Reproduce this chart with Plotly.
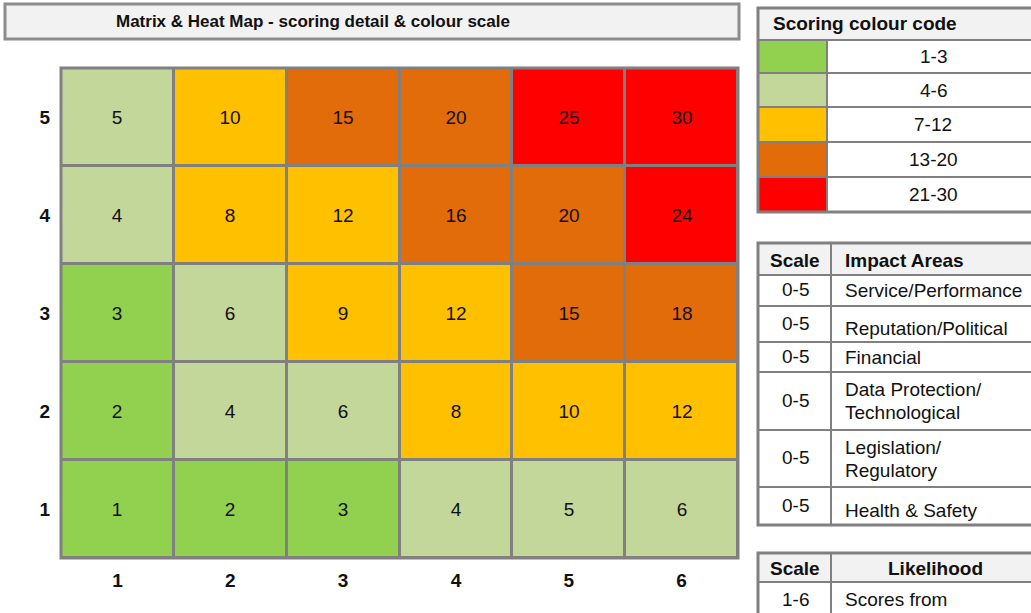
import plotly.graph_objects as go

W, H = 1031, 613

# ---------------- data ----------------
likelihood = [1, 2, 3, 4, 5, 6]
impact = [1, 2, 3, 4, 5]
scores = [
    [1, 2, 3, 4, 5, 6],
    [2, 4, 6, 8, 10, 12],
    [3, 6, 9, 12, 15, 18],
    [4, 8, 12, 16, 20, 24],
    [5, 10, 15, 20, 25, 30],
]
band_labels = ["1-3", "4-6", "7-12", "13-20", "21-30"]
band_upper = [3, 6, 12, 20, 30]
band_colors = ["#92d050", "#c4d79b", "#ffc000", "#e26b0a", "#ff0000"]

impact_header = ["Scale", "Impact Areas"]
impact_scale = ["0-5", "0-5", "0-5", "0-5", "0-5", "0-5"]
impact_areas = ["Service/Performance", "Reputation/Political", "Financial",
                "Data Protection/\nTechnological", "Legislation/\nRegulatory",
                "Health & Safety"]
likelihood_header = ["Scale", "Likelihood"]
likelihood_scale = ["1-6"]
likelihood_desc = ["Scores from"]

title_text = "Matrix & Heat Map - scoring detail & colour scale"
legend_title = "Scoring colour code"

# ---------------- style ----------------
FONT = "Liberation Sans, Arial, sans-serif"
TXT = "#111111"
GRID = "#808080"
HEAD = "#f2f2f2"
FS = 19


def px(x):
    return x / W


def py(y):
    return 1 - y / H


def band(s):
    for i, u in enumerate(band_upper):
        if s <= u:
            return i
    return len(band_upper) - 1


zband = [[band(s) for s in row] for row in scores]
n = len(band_colors)
cscale = []
for i, c in enumerate(band_colors):
    lo = max(0, (i - 0.5) / (n - 1))
    hi = min(1, (i + 0.5) / (n - 1))
    cscale += [[lo, c], [hi, c]]

fig = go.Figure(go.Heatmap(
    x=likelihood, y=impact, z=zband, zmin=0, zmax=n - 1,
    colorscale=cscale, showscale=False, xgap=3, ygap=3,
    text=scores, texttemplate="%{text}",
    textfont=dict(family=FONT, size=FS, color=TXT),
    hoverinfo="skip",
))

shapes = []
annotations = []


def rect(x0, y0, x1, y1, fill=None, lw=2, color=GRID):
    shapes.append(dict(type="rect", xref="paper", yref="paper",
                       x0=px(x0), x1=px(x1), y0=py(y1), y1=py(y0),
                       fillcolor=fill if fill else "rgba(0,0,0,0)",
                       line=dict(color=color, width=lw), layer="above"))


def text(x, y, t, size=FS, bold=False, xanchor="center"):
    annotations.append(dict(xref="paper", yref="paper", x=px(x), y=py(y),
                            text=("<b>%s</b>" % t) if bold else t,
                            showarrow=False, xanchor=xanchor, yanchor="middle",
                            font=dict(family=FONT, size=size, color=TXT)))


# title box
rect(5, 4, 739, 39, fill=HEAD, lw=3, color="#8c8c8c")
text(313, 21, title_text, size=17, bold=True)

# matrix outer border
rect(61, 68, 738, 558, lw=3, color=GRID)

# ---- scoring colour code table ----
RX = 1040
rows1 = [40, 73, 107, 142, 177, 212]
rect(758, 8, RX, 40, fill=HEAD)
text(771, 24, legend_title, size=19, bold=True, xanchor="left")
for i, (lab, col) in enumerate(zip(band_labels, band_colors)):
    y0, y1 = rows1[i], rows1[i + 1]
    rect(758, y0, 827, y1, fill=col)
    rect(827, y0, RX, y1, fill="white")
    text(933, (y0 + y1) / 2, lab)
rect(758, 8, RX, 212, lw=3)

# ---- impact table ----
rows2 = [243, 275, 306, 342, 372, 430, 487, 525]
rect(758, rows2[0], 831, rows2[1], fill=HEAD)
rect(831, rows2[0], RX, rows2[1], fill=HEAD)
text(795, 260, impact_header[0], bold=True)
text(843, 260, impact_header[1], bold=True, xanchor="left")
offsets = [0, 4, 0, 0, 0, 4]
for i, (sc, ar) in enumerate(zip(impact_scale, impact_areas)):
    y0, y1 = rows2[i + 1], rows2[i + 2]
    rect(758, y0, 831, y1, fill="white")
    rect(831, y0, RX, y1, fill="white")
    ym = (y0 + y1) / 2
    text(795, ym - 1, sc)
    lines = ar.split("\n")
    for j, ln in enumerate(lines):
        yy = ym + (j - (len(lines) - 1) / 2) * 23 + offsets[i]
        text(843, yy, ln, xanchor="left")
rect(758, rows2[0], RX, rows2[-1], lw=3)

# ---- likelihood table ----
rows3 = [553, 582, 620]
rect(758, rows3[0], 831, rows3[1], fill=HEAD)
rect(831, rows3[0], RX, rows3[1], fill=HEAD)
text(795, 568, likelihood_header[0], bold=True)
text(935, 568, likelihood_header[1], bold=True)
for i, (sc, ds) in enumerate(zip(likelihood_scale, likelihood_desc)):
    y0, y1 = rows3[i + 1], rows3[i + 2]
    rect(758, y0, 831, y1, fill="white")
    rect(831, y0, RX, y1, fill="white")
    text(795, 599, sc)
    text(843, 599, ds, xanchor="left")
rect(758, rows3[0], RX, rows3[-1], lw=3)

fig.update_layout(
    width=W, height=H, margin=dict(l=0, r=0, t=0, b=0),
    paper_bgcolor="white", plot_bgcolor=GRID,
    shapes=shapes, annotations=annotations,
    xaxis=dict(domain=[px(61), px(738)], range=[0.5, 6.5],
               tickvals=likelihood, ticktext=["<b>%d</b>" % v for v in likelihood],
               tickfont=dict(family=FONT, size=FS, color=TXT),
               showgrid=False, zeroline=False, ticks="", ticklabelstandoff=9,
               fixedrange=True),
    yaxis=dict(domain=[py(558), py(68)], range=[0.5, 5.5],
               tickvals=impact, ticktext=["<b>%d</b>" % v for v in impact],
               tickfont=dict(family=FONT, size=FS, color=TXT),
               showgrid=False, zeroline=False, ticks="", ticklabelstandoff=10,
               fixedrange=True),
    showlegend=False,
)

fig.write_html("out.html", config={"displayModeBar": False},
               post_script="document.body.style.margin='0';document.body.style.overflow='hidden';")
